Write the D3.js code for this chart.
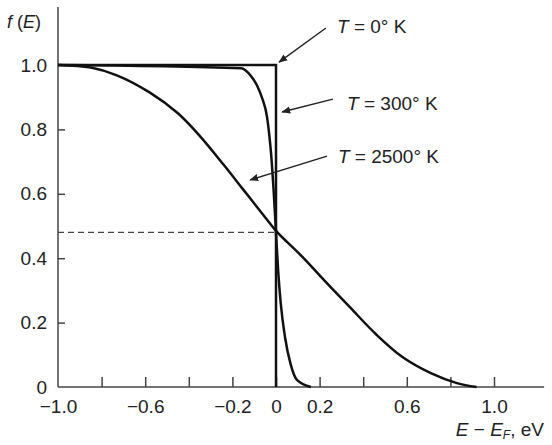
<!DOCTYPE html>
<html>
<head>
<meta charset="utf-8">
<script src="https://cdn.jsdelivr.net/npm/d3@7"></script>
<style>
  body { margin: 0; background: #fff; }
  text { font-family: "Liberation Sans", Arial, sans-serif; fill: #222; }
</style>
</head>
<body>
<svg id="chart" width="552" height="445"></svg>
<script>
// values (energy E - EF in eV, occupancy f(E))
var t0E = [-1.0, 0.0, 0.0];
var t0F = [1.0, 1.0, 0.0];

var t300E = [-1.0, -0.16, -0.114, -0.086, -0.062, -0.042, -0.032, -0.022, -0.01, 0.0, 0.01, 0.022, 0.042, 0.067, 0.096, 0.16];
var t300F = [1.0, 0.99, 0.965, 0.935, 0.894, 0.842, 0.79, 0.72, 0.6, 0.48, 0.36, 0.258, 0.152, 0.071, 0.022, 0.0];

var t2500E = [-1.0, -0.85, -0.73, -0.58, -0.45, -0.35, -0.24, -0.15, -0.06, 0.0, 0.12, 0.23, 0.34, 0.46, 0.58, 0.71, 0.83, 0.92];
var t2500F = [1.0, 0.992, 0.968, 0.915, 0.85, 0.78, 0.69, 0.613, 0.536, 0.485, 0.405, 0.325, 0.247, 0.163, 0.093, 0.043, 0.012, 0.0];

var xTicks = [-0.8, -0.6, -0.4, -0.2, 0, 0.2, 0.4, 0.6, 0.8, 1.0];
var xLabels = [-1.0, -0.6, -0.2, 0, 0.2, 0.6, 1.0];
var yTicks = [0.2, 0.4, 0.6, 0.8];
var yLabels = [0, 0.2, 0.4, 0.6, 0.8, 1.0];
var halfLevel = 0.48;

var seriesNames = ["T = 0° K", "T = 300° K", "T = 2500° K"];
// label anchor and arrow (from -> to), data coordinates
var labelE = [0.28, 0.326, 0.284];
var labelF = [1.099, 0.86, 0.696];
var arrowFromE = [0.229, 0.261, 0.234];
var arrowFromF = [1.115, 0.894, 0.717];
var arrowToE = [0.014, 0.028, -0.119];
var arrowToF = [1.009, 0.854, 0.643];

var svg = d3.select("#chart");

var x = d3.scaleLinear().domain([-1, 1]).range([58, 494]);
var y = d3.scaleLinear().domain([0, 1]).range([387, 65]);

var fmt = function (d) {
  return d === 0 ? "0" : d3.format(".1f")(d).replace("-", "\u2212");
};

// axis lines (run a bit past the data range like the original)
svg.append("line")
  .attr("x1", x(-1)).attr("x2", x(1.23))
  .attr("y1", y(0)).attr("y2", y(0))
  .attr("stroke", "#444").attr("stroke-width", 1.5);
svg.append("line")
  .attr("x1", x(-1)).attr("x2", x(-1))
  .attr("y1", y(0)).attr("y2", y(1.18))
  .attr("stroke", "#444").attr("stroke-width", 1.5);

// x tick marks (inward)
var xTickAxis = svg.append("g")
  .attr("transform", "translate(0," + y(0) + ")")
  .call(d3.axisBottom(x).tickValues(xTicks).tickSize(-10).tickFormat(""));
xTickAxis.select(".domain").remove();
xTickAxis.selectAll("line").attr("stroke", "#444").attr("stroke-width", 1.5);

// x labels
var xLabAxis = svg.append("g")
  .attr("transform", "translate(0," + y(0) + ")")
  .call(d3.axisBottom(x).tickValues(xLabels).tickSize(0).tickPadding(13).tickFormat(fmt));
xLabAxis.select(".domain").remove();
xLabAxis.selectAll("text")
  .style("font-size", "19px")
  .style("font-family", "Liberation Sans, Arial, sans-serif")
  .attr("fill", "#222");

// y tick marks (inward)
var yTickAxis = svg.append("g")
  .attr("transform", "translate(" + x(-1) + ",0)")
  .call(d3.axisLeft(y).tickValues(yTicks).tickSize(-7).tickFormat(""));
yTickAxis.select(".domain").remove();
yTickAxis.selectAll("line").attr("stroke", "#444").attr("stroke-width", 1.5);

// y labels
var yLabAxis = svg.append("g")
  .attr("transform", "translate(" + x(-1) + ",0)")
  .call(d3.axisLeft(y).tickValues(yLabels).tickSize(0).tickPadding(11).tickFormat(fmt));
yLabAxis.select(".domain").remove();
yLabAxis.selectAll("text")
  .style("font-size", "19px")
  .style("font-family", "Liberation Sans, Arial, sans-serif")
  .attr("fill", "#222");

// dashed half-occupancy guide
svg.append("line")
  .attr("x1", x(-1)).attr("x2", x(0))
  .attr("y1", y(halfLevel)).attr("y2", y(halfLevel))
  .attr("stroke", "#444")
  .attr("stroke-width", 1.3)
  .attr("stroke-dasharray", "6,4");

// curves
var toPts = function (es, fs) {
  return es.map(function (e, i) { return [e, fs[i]]; });
};

var straight = d3.line().x(function (d) { return x(d[0]); }).y(function (d) { return y(d[1]); });
var steep = d3.line().x(function (d) { return x(d[0]); }).y(function (d) { return y(d[1]); })
  .curve(d3.curveMonotoneX);
var smooth = d3.line().x(function (d) { return x(d[0]); }).y(function (d) { return y(d[1]); })
  .curve(d3.curveCatmullRom.alpha(0.5));

svg.append("path")
  .attr("d", straight(toPts(t0E, t0F)))
  .attr("fill", "none").attr("stroke", "#111").attr("stroke-width", 2.5);
svg.append("path")
  .attr("d", steep(toPts(t300E, t300F)))
  .attr("fill", "none").attr("stroke", "#111").attr("stroke-width", 2.5);
svg.append("path")
  .attr("d", smooth(toPts(t2500E, t2500F)))
  .attr("fill", "none").attr("stroke", "#111").attr("stroke-width", 2.5);

// arrowhead
svg.append("defs").append("marker")
  .attr("id", "head")
  .attr("viewBox", "0 0 10 10")
  .attr("refX", 9).attr("refY", 5)
  .attr("markerWidth", 9).attr("markerHeight", 9)
  .attr("markerUnits", "userSpaceOnUse")
  .attr("orient", "auto")
  .append("path")
  .attr("d", "M0,1 L10,5 L0,9 Z")
  .attr("fill", "#222");

// annotations
seriesNames.forEach(function (name, i) {
  svg.append("line")
    .attr("x1", x(arrowFromE[i])).attr("y1", y(arrowFromF[i]))
    .attr("x2", x(arrowToE[i])).attr("y2", y(arrowToF[i]))
    .attr("stroke", "#222").attr("stroke-width", 1.4)
    .attr("marker-end", "url(#head)");

  var t = svg.append("text")
    .attr("x", x(labelE[i]))
    .attr("y", y(labelF[i]))
    .style("font-size", "19px");
  t.append("tspan").style("font-style", "italic").text("T");
  t.append("tspan").text(name.slice(1));
});

// axis titles
var yt = svg.append("text").attr("x", 7).attr("y", 28).style("font-size", "18px");
yt.append("tspan").style("font-style", "italic").text("f");
yt.append("tspan").text(" (");
yt.append("tspan").style("font-style", "italic").text("E");
yt.append("tspan").text(")");

var xt = svg.append("text").attr("x", 544).attr("y", 436)
  .attr("text-anchor", "end").style("font-size", "19px");
xt.append("tspan").style("font-style", "italic").text("E");
xt.append("tspan").text(" \u2212 ");
xt.append("tspan").style("font-style", "italic").text("E");
xt.append("tspan").style("font-style", "italic").style("font-size", "12px").attr("dy", 3).text("F");
xt.append("tspan").attr("dy", -3).text(", eV");
</script>
</body>
</html>
